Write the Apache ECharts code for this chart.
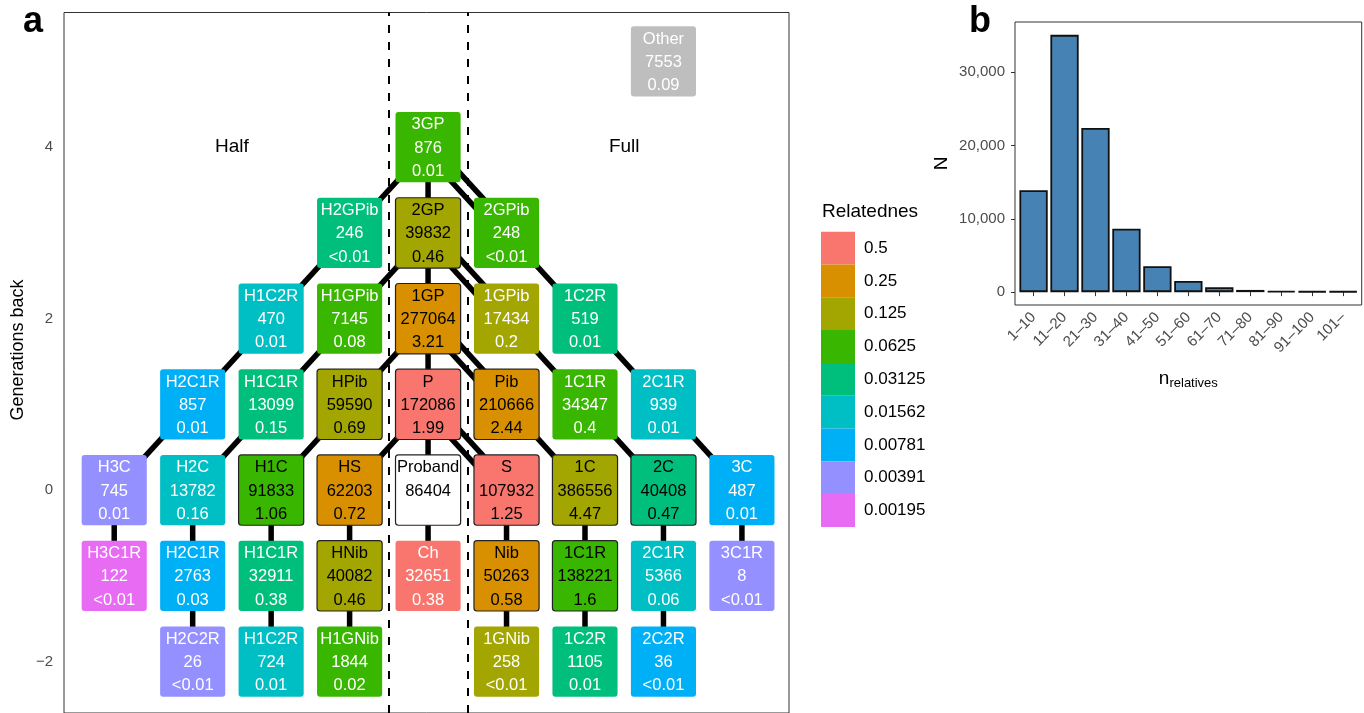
<!DOCTYPE html>
<html><head><meta charset="utf-8">
<script src="https://cdn.jsdelivr.net/npm/echarts@6/dist/echarts.min.js"></script>
<style>html,body{margin:0;padding:0;background:#fff}#c{width:1364px;height:713px}</style>
</head><body><div id="c"></div>
<script>
// ---------------- data ----------------
const relLevels = [0.5, 0.25, 0.125, 0.0625, 0.03125, 0.01562, 0.00781, 0.00391, 0.00195];
const relLabels = ['0.5', '0.25', '0.125', '0.0625', '0.03125', '0.01562', '0.00781', '0.00391', '0.00195'];

const nodeNames = ['3GP','H2GPib','2GP','2GPib','H1C2R','H1GPib','1GP','1GPib','1C2R',
  'H2C1R','H1C1R','HPib','P','Pib','1C1R','2C1R',
  'H3C','H2C','H1C','HS','Proband','S','1C','2C','3C',
  'H3C1R','H2C1R','H1C1R','HNib','Ch','Nib','1C1R','2C1R','3C1R',
  'H2C2R','H1C2R','H1GNib','1GNib','1C2R','2C2R','Other'];
const nodeLateral = [0,-1,0,1,-2,-1,0,1,2,
  -3,-2,-1,0,1,2,3,
  -4,-3,-2,-1,0,1,2,3,4,
  -4,-3,-2,-1,0,1,2,3,4,
  -3,-2,-1,1,2,3,3];
const nodeGeneration = [4,3,3,3,2,2,2,2,2,
  1,1,1,1,1,1,1,
  0,0,0,0,0,0,0,0,0,
  -1,-1,-1,-1,-1,-1,-1,-1,-1,
  -2,-2,-2,-2,-2,-2,5];
const nodeCount = [876,246,39832,248,470,7145,277064,17434,519,
  857,13099,59590,172086,210666,34347,939,
  745,13782,91833,62203,86404,107932,386556,40408,487,
  122,2763,32911,40082,32651,50263,138221,5366,8,
  26,724,1844,258,1105,36,7553];
const nodePercent = ['0.01','<0.01','0.46','<0.01','0.01','0.08','3.21','0.2','0.01',
  '0.01','0.15','0.69','1.99','2.44','0.4','0.01',
  '0.01','0.16','1.06','0.72','','1.25','4.47','0.47','0.01',
  '<0.01','0.03','0.38','0.46','0.38','0.58','1.6','0.06','<0.01',
  '<0.01','0.01','0.02','<0.01','0.01','<0.01','0.09'];
const nodeRelatedness = [0.0625,0.03125,0.125,0.0625,0.01562,0.0625,0.25,0.125,0.03125,
  0.00781,0.03125,0.125,0.5,0.25,0.0625,0.01562,
  0.00391,0.01562,0.0625,0.25,1,0.5,0.125,0.03125,0.00781,
  0.00195,0.00781,0.03125,0.125,0.5,0.25,0.0625,0.01562,0.00391,
  0.00391,0.01562,0.0625,0.125,0.03125,0.00781,null];

const edgeFrom = ['3GP@4','2GP@3','1GP@2','P@1','Proband@0',
  '3GP@4','2GP@3','1GP@2','P@1','H2GPib@3','H1GPib@2','HPib@1','H1C2R@2','H1C1R@1','H2C1R@1',
  'H3C@0','H2C@0','H2C1R@-1','H1C@0','H1C1R@-1','HS@0','HNib@-1',
  '3GP@4','2GP@3','1GP@2','P@1',
  '2GPib@3','1GPib@2','Pib@1','1C2R@2','1C1R@1','2C1R@1',
  'S@0','Nib@-1','1C@0','1C1R@-1','2C@0','2C1R@-1','3C@0'];
const edgeTo = ['2GP@3','1GP@2','P@1','Proband@0','Ch@-1',
  'H2GPib@3','H1GPib@2','HPib@1','HS@0','H1C2R@2','H1C1R@1','H1C@0','H2C1R@1','H2C@0','H3C@0',
  'H3C1R@-1','H2C1R@-1','H2C2R@-2','H1C1R@-1','H1C2R@-2','HNib@-1','H1GNib@-2',
  '2GPib@3','1GPib@2','Pib@1','S@0',
  '1C2R@2','1C1R@1','1C@0','2C1R@1','2C@0','3C@0',
  'Nib@-1','1GNib@-2','1C1R@-1','1C2R@-2','2C1R@-1','2C2R@-2','3C1R@-1'];
const edgeKind = ['single','single','single','single','single',
  'single','single','single','single','single','single','single','single','single','single',
  'single','single','single','single','single','single','single',
  'double','double','double','double',
  'single','single','single','single','single','single',
  'single','single','single','single','single','single','single'];

const dividerLateral = [-0.5, 0.5];
const sideLabels = ['Half', 'Full'];
const sideLateral = [-2.5, 2.5];
const sideGeneration = [4, 4];
const generationTicks = [-2, 0, 2, 4];

const binLabels = ['1\u201310','11\u201320','21\u201330','31\u201340','41\u201350','51\u201360','61\u201370','71\u201380','81\u201390','91\u2013100','101\u2013'];
const binCounts = [13900, 35100, 22400, 8650, 3530, 1530, 680, 300, 160, 110, 100];
const countTicks = [0, 10000, 20000, 30000];

// ---------------- styling / build ----------------
const FONT = '"Liberation Sans", Arial, Helvetica, sans-serif';
const palette = ['#F8766D','#D89000','#A3A500','#39B600','#00BF7D','#00BFC4','#00B0F6','#9590FF','#E76BF3'];
function relColor(r) {
  if (r === null) return '#BEBEBE';
  const k = relLevels.indexOf(r);
  return k >= 0 ? palette[k] : '#FFFFFF';
}
const keyIndex = {};
nodeNames.forEach((n, i) => { keyIndex[n + '@' + nodeGeneration[i]] = i; });

const edgeData = edgeFrom.map((f, k) => {
  const a = keyIndex[f], b = keyIndex[edgeTo[k]];
  return [nodeLateral[a], nodeGeneration[a], nodeLateral[b], nodeGeneration[b], edgeKind[k] === 'double' ? 1 : 0];
});
const boxData = nodeNames.map((n, i) => [nodeLateral[i], nodeGeneration[i], i]);
const sideData = sideLabels.map((s, i) => [sideLateral[i], sideGeneration[i], i]);

function renderEdge(params, api) {
  const a = api.coord([api.value(0), api.value(1)]);
  const b = api.coord([api.value(2), api.value(3)]);
  const style = { stroke: '#000', lineWidth: 5.5 };
  if (!api.value(4)) {
    return { type: 'line', shape: { x1: a[0], y1: a[1], x2: b[0], y2: b[1] }, style };
  }
  const dx = b[0] - a[0], dy = b[1] - a[1], L = Math.hypot(dx, dy);
  const ox = -dy / L * 6, oy = dx / L * 6;
  return { type: 'group', children: [
    { type: 'line', shape: { x1: a[0] + ox, y1: a[1] + oy, x2: b[0] + ox, y2: b[1] + oy }, style },
    { type: 'line', shape: { x1: a[0] - ox, y1: a[1] - oy, x2: b[0] - ox, y2: b[1] - oy }, style }
  ]};
}

function renderBox(params, api) {
  const i = api.value(2);
  const c = api.coord([api.value(0), api.value(1)]);
  const s = api.size([0.83, 0.82]);
  const fill = relColor(nodeRelatedness[i]);
  const dark = nodeCount[i] > 35000;
  const txt = [nodeNames[i], String(nodeCount[i]), nodePercent[i]].join('\n');
  return { type: 'group', children: [
    { type: 'rect', shape: { x: c[0] - s[0] / 2, y: c[1] - s[1] / 2, width: s[0], height: s[1], r: 3 },
      style: { fill: fill, stroke: dark ? '#222' : null, lineWidth: dark ? 1.2 : 0 } },
    { type: 'text', style: { text: txt, x: c[0], y: c[1] + 1, align: 'center', verticalAlign: 'middle',
      fontSize: 16.5, lineHeight: 23.3, fontFamily: FONT, fill: dark ? '#000' : '#FFFFFF' } }
  ]};
}

function renderSide(params, api) {
  const i = api.value(2);
  const c = api.coord([api.value(0), api.value(1)]);
  return { type: 'text', style: { text: sideLabels[i], x: c[0], y: c[1], align: 'center', verticalAlign: 'middle',
    fontSize: 19, fontFamily: FONT, fill: '#000' } };
}

const minus = v => (v < 0 ? '\u2212' + Math.abs(v) : String(v));
const maxCount = Math.max(...binCounts);

const legendGraphics = [{
  type: 'text', x: 822, y: 212,
  style: { text: 'Relatedness', fontSize: 19, fontFamily: FONT, fill: '#000', align: 'left', verticalAlign: 'middle',
    width: 103, overflow: 'truncate', ellipsis: '' }
}];
relLabels.forEach((lab, k) => {
  legendGraphics.push({ type: 'rect', shape: { x: 821, y: 231.7 + k * 32.8, width: 34, height: 32.8 },
    style: { fill: palette[k] } });
  legendGraphics.push({ type: 'text', x: 864, y: 231.7 + k * 32.8 + 16.4,
    style: { text: lab, fontSize: 17, fontFamily: FONT, fill: '#000', align: 'left', verticalAlign: 'middle' } });
});

const option = {
  animation: false,
  backgroundColor: '#fff',
  textStyle: { fontFamily: FONT },
  grid: [
    { left: 64, top: 12.5, width: 725, height: 706, show: true, borderColor: '#333', borderWidth: 1, containLabel: false },
    { left: 1015, top: 22, width: 346.7, height: 283, show: true, borderColor: '#333', borderWidth: 1, containLabel: false }
  ],
  xAxis: [
    { type: 'value', gridIndex: 0, min: -4.64, max: 4.60, show: false },
    { type: 'value', gridIndex: 1, min: 0.4, max: 11.6,
      axisLine: { show: false }, splitLine: { show: false },
      axisTick: { show: true, length: 4, customValues: binLabels.map((b, i) => i + 1), lineStyle: { color: '#333' } },
      axisLabel: { customValues: binLabels.map((b, i) => i + 1), formatter: v => binLabels[Math.round(v) - 1] || '',
        rotate: 45, margin: 10, fontSize: 15, color: '#4D4D4D', fontFamily: FONT },
      name: '{n|n}{s|relatives}', nameLocation: 'middle', nameGap: 63,
      nameTextStyle: { rich: {
        n: { fontSize: 19, fontFamily: FONT, color: '#000' },
        s: { fontSize: 13, fontFamily: FONT, color: '#000', padding: [9, 0, 0, 0] } } } }
  ],
  yAxis: [
    { type: 'value', gridIndex: 0, min: -2.6, max: 5.571,
      axisLine: { show: false }, axisTick: { show: false }, splitLine: { show: false },
      axisLabel: { customValues: generationTicks, formatter: minus, margin: 11, fontSize: 15, color: '#4D4D4D', fontFamily: FONT } },
    { type: 'value', gridIndex: 1, min: -maxCount * 0.05, max: maxCount * 1.05,
      axisLine: { show: false }, splitLine: { show: false },
      axisTick: { show: true, length: 4, customValues: countTicks, lineStyle: { color: '#333' } },
      axisLabel: { customValues: countTicks, formatter: v => Number(v).toLocaleString('en-US'), margin: 10,
        fontSize: 15, color: '#4D4D4D', fontFamily: FONT },
      name: 'N', nameLocation: 'middle', nameRotate: 90, nameGap: 64,
      nameTextStyle: { fontSize: 19, color: '#000', fontFamily: FONT } }
  ],
  series: [
    { type: 'custom', name: 'links', xAxisIndex: 0, yAxisIndex: 0, data: edgeData, renderItem: renderEdge,
      encode: { x: [0, 2], y: [1, 3] }, silent: true, z: 2,
      markLine: { silent: true, symbol: ['none', 'none'], label: { show: false },
        lineStyle: { type: [8, 9], color: '#000', width: 2 },
        data: dividerLateral.map(v => ({ xAxis: v })) } },
    { type: 'custom', name: 'boxes', xAxisIndex: 0, yAxisIndex: 0, data: boxData, renderItem: renderBox,
      encode: { x: 0, y: 1 }, silent: true, z: 3 },
    { type: 'custom', name: 'sides', xAxisIndex: 0, yAxisIndex: 0, data: sideData, renderItem: renderSide,
      encode: { x: 0, y: 1 }, silent: true, z: 3 },
    { type: 'bar', name: 'probands', xAxisIndex: 1, yAxisIndex: 1,
      data: binCounts.map((v, i) => [i + 1, v]), barWidth: 28.3,
      itemStyle: { color: '#4682B4', borderColor: '#111', borderWidth: 1.8 } }
  ],
  graphic: [
    { type: 'text', x: 23, y: 22, style: { text: 'a', fontSize: 36, fontWeight: 'bold', fontFamily: FONT, fill: '#000', align: 'left', verticalAlign: 'middle' } },
    { type: 'text', x: 969, y: 22, style: { text: 'b', fontSize: 36, fontWeight: 'bold', fontFamily: FONT, fill: '#000', align: 'left', verticalAlign: 'middle' } },
    { type: 'text', x: 18, y: 350, rotation: Math.PI / 2,
      style: { text: 'Generations back', fontSize: 18, fontFamily: FONT, fill: '#000', align: 'center', verticalAlign: 'middle' } }
  ].concat(legendGraphics)
};

const chart = echarts.init(document.getElementById('c'));
chart.setOption(option);
</script>
</body></html>
